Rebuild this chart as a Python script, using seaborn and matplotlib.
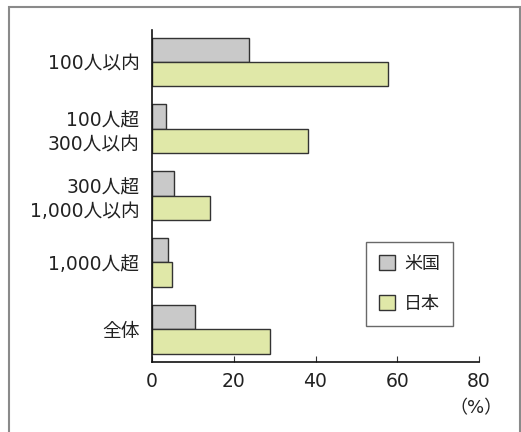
import matplotlib
matplotlib.use("Agg")
import matplotlib.pyplot as plt
import seaborn as sns
import pandas as pd
from matplotlib.patches import Rectangle

categories = ["100人以内", "100人超\n300人以内", "300人超\n1,000人以内", "1,000人超", "全体"]
series_names = ["米国", "日本"]
us_values = [23.7, 3.4, 5.4, 3.9, 10.5]
jp_values = [57.7, 38.1, 14.2, 5.0, 28.9]
x_ticks = [0, 20, 40, 60, 80]

sns.set_theme(style="white")
plt.rcParams['font.family'] = ['DejaVu Sans', 'Noto Sans CJK JP']

df = pd.DataFrame({
    "category": categories * 2,
    "country": [series_names[0]] * len(categories) + [series_names[1]] * len(categories),
    "value": us_values + jp_values,
})

fig = plt.figure(figsize=(5.21, 4.32), dpi=100)
ax = fig.add_axes([152/521, 1 - 362/432, 327/521, 332/432])

palette = {"米国": "#c9c9c9", "日本": "#e0e8a8"}
sns.barplot(data=df, y="category", x="value", hue="country", order=categories,
            hue_order=series_names, palette=palette, width=0.73, dodge=True,
            edgecolor="#333333", linewidth=1.0, saturation=1, ax=ax, orient="h")

ax.set_xlim(0, 80)
ax.set_ylim(4.49, -0.48)
ax.set_xticks(x_ticks)
ax.set_xticklabels([str(t) for t in x_ticks], fontsize=13.5, color="#222222")
ax.tick_params(axis="x", direction="in", length=4, width=0.8, color="#333333", pad=7, bottom=True)
ax.tick_params(axis="y", length=0, pad=9)
for lbl in ax.get_yticklabels():
    lbl.set_fontsize(13.5)
    lbl.set_color("#222222")
    lbl.set_linespacing(1.3)
    lbl.set_ha("right")
ax.set_xlabel("")
ax.set_ylabel("")
for side in ["top", "right"]:
    ax.spines[side].set_visible(False)
for side in ["left", "bottom"]:
    ax.spines[side].set_color("#111111")
    ax.spines[side].set_linewidth(1.2)

leg = ax.legend(loc="upper left", bbox_to_anchor=(366/521, 1 - 242/432),
                bbox_transform=fig.transFigure, fontsize=13, frameon=True,
                fancybox=False, handlelength=0.9, handleheight=0.9,
                labelspacing=1.25, borderpad=0.7, handletextpad=0.5, borderaxespad=0)
leg.get_frame().set_edgecolor("#444444")
leg.get_frame().set_linewidth(1.0)
for t in leg.get_texts():
    t.set_color("#222222")

fig.text(476/521, 1 - 408/432, "（%）", ha="center", va="center", fontsize=13, color="#222222")

frame = Rectangle((9/521, -0.05), 511/521, 1 - 7/432 + 0.05, transform=fig.transFigure,
                  fill=False, edgecolor="#8a8a8a", linewidth=1.5)
fig.patches.append(frame)

fig.savefig("out.png", dpi=100)
